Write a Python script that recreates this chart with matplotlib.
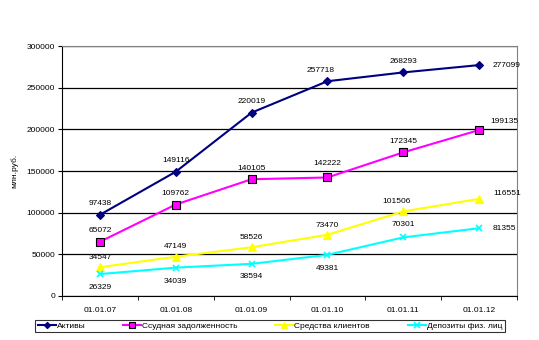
import matplotlib.pyplot as plt
import numpy as np

dates = ["01.01.07", "01.01.08", "01.01.09", "01.01.10", "01.01.11", "01.01.12"]
aktivy = [97438, 149116, 220019, 257718, 268293, 277099]
ssudnaya = [65072, 109762, 140105, 142222, 172345, 199135]
sredstva = [34547, 47149, 58526, 73470, 101506, 116551]
depozity = [26329, 34039, 38594, 49381, 70301, 81355]
yticks = [0, 50000, 100000, 150000, 200000, 250000, 300000]

plt.rcParams['font.family'] = ['Liberation Sans', 'DejaVu Sans']
fig = plt.figure(figsize=(5.39, 3.40), dpi=100)
ax = fig.add_axes([62/539, 1 - 296/340, 455/539, 250/340])

x = np.arange(len(dates))
series = [
    ("Активы", aktivy, "#000080", "D", 4, "#000080"),
    ("Ссудная задолженность", ssudnaya, "#FF00FF", "s", 6, "black"),
    ("Средства клиентов", sredstva, "#FFFF00", "^", 6, "#FFFF00"),
    ("Депозиты физ. лиц", depozity, "#00FFFF", "x", 5, "#00FFFF"),
]
for name, vals, col, mk, ms, ec in series:
    ax.plot(x, vals, color=col, lw=1.5, marker=mk, ms=ms, mfc=col, mec=ec,
            mew=0.8 if mk != "x" else 1.2, label=name, zorder=3)

# label offsets in points (dx, dy)
offs = {
    0: [(0, 8), (0, 8), (0, 8), (-5, 8), (0, 8), (20, 0)],
    1: [(0, 8), (0, 8), (0, 8), (0, 10), (0, 8), (18, 6)],
    2: [(0, 7), (0, 7), (0, 7), (0, 7), (-5, 7), (20, 4)],
    3: [(0, -10), (0, -10), (0, -9), (0, -10), (0, 9), (18, 0)],
}
for i, (name, vals, col, mk, ms, ec) in enumerate(series):
    for j, v in enumerate(vals):
        dx, dy = offs[i][j]
        ax.annotate(str(v), (x[j], v), xytext=(dx, dy), textcoords="offset points",
                    ha="center", va="center", fontsize=6, zorder=4)

ax.set_xlim(-0.5, 5.5)
ax.set_ylim(0, 300000)
ax.set_yticks(yticks)
ax.set_yticklabels([str(t) for t in yticks], fontsize=6)
ax.set_xticks(x)
ax.set_xticklabels(dates, fontsize=6)
ax.set_xticks(np.arange(-0.5, 6, 1), minor=True)
ax.tick_params(axis="x", which="major", length=0, pad=8)
ax.tick_params(axis="x", which="minor", length=3, direction="out")
ax.tick_params(axis="y", length=3, direction="out", pad=2)
ax.set_ylabel("млн.руб.", fontsize=6, labelpad=6)
ax.grid(axis="y", color="black", lw=0.9)
ax.set_axisbelow(True)
for s in ["top", "right"]:
    ax.spines[s].set_color("#808080")
for s in ["left", "bottom"]:
    ax.spines[s].set_color("black")

leg = fig.legend(loc="center", bbox_to_anchor=(270/539, 1 - 326/340), ncol=4,
                 fontsize=6, frameon=True, fancybox=False, edgecolor="black",
                 handlelength=2.2, columnspacing=4.5, borderpad=0.3, handletextpad=0.1,
                 markerscale=0.8)
leg.get_frame().set_linewidth(0.8)

fig.savefig("out.png", dpi=100)
